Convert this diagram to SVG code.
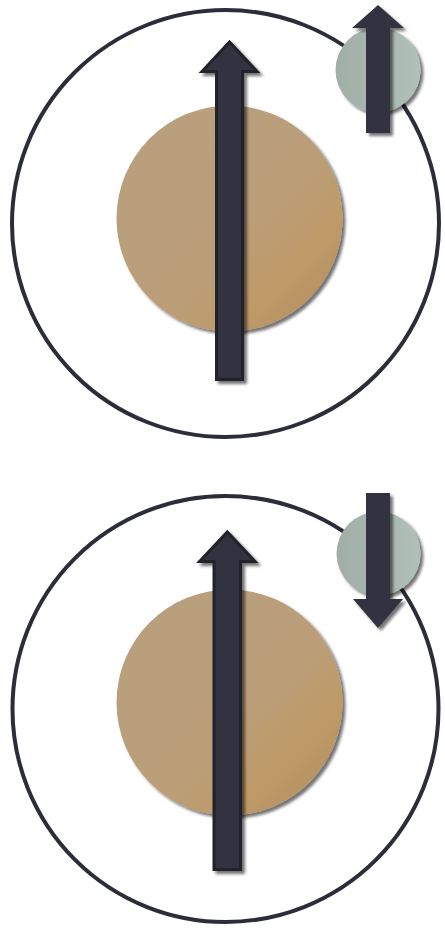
<svg xmlns="http://www.w3.org/2000/svg" width="445" height="928" viewBox="0 0 445 928">
<defs>
<linearGradient id="tan" x1="0" y1="0" x2="1" y2="1">
<stop offset="0" stop-color="#b8a07f"/>
<stop offset="0.55" stop-color="#bb9e78"/>
<stop offset="0.75" stop-color="#bf9a68"/>
<stop offset="1" stop-color="#ad8c60"/>
</linearGradient>
<linearGradient id="sage" x1="0" y1="0" x2="1" y2="0">
<stop offset="0" stop-color="#a0aea6"/>
<stop offset="1" stop-color="#b1c0b8"/>
</linearGradient>
<filter id="sh" x="-20%" y="-20%" width="150%" height="150%">
<feDropShadow dx="3" dy="3" stdDeviation="1.8" flood-color="#000" flood-opacity="0.55"/>
</filter>
</defs>
<style>
.ring{fill:none;stroke:#2c2d3b;stroke-width:4}
.nuc{fill:url(#tan);filter:url(#sh)}
.el{fill:url(#sage);filter:url(#sh)}
.arr{fill:#31323f;stroke:#212229;stroke-width:3;stroke-linejoin:miter;filter:url(#sh)}
.sarr{fill:#31323f;filter:url(#sh)}
.lbl{font-family:"Liberation Sans",Arial,sans-serif;font-size:26px;fill:#6f7d77}
</style>
<g id="atom-top">
<circle class="ring" cx="225.5" cy="223.5" r="213.5"/>
<g id="nucleus-top"><circle class="nuc" cx="229.5" cy="218.5" r="113"/></g>
<g id="electron-top"><circle class="el" cx="378" cy="70" r="42.5"/><text class="lbl" x="382" y="82" text-anchor="middle">e</text></g>
</g>
<g id="atom-bottom">
<circle class="ring" cx="225.5" cy="709" r="213"/>
<g id="nucleus-bottom"><circle class="nuc" cx="229.5" cy="702.5" r="113"/></g>
<g id="electron-bottom"><circle class="el" cx="378.5" cy="553.5" r="42"/><text class="lbl" x="382" y="566" text-anchor="middle">e</text></g>
</g>
<g id="connectors">
<polygon class="arr" points="216.5,379.5 242.5,379.5 242.5,71.5 257,71.5 229.5,42 202,71.5 216.5,71.5"/>
<polygon class="arr" points="214,869.5 240.5,869.5 240.5,561.5 255,561.5 227.3,532 199.5,561.5 214,561.5"/>
<polygon class="sarr" points="366,133 390,133 390,28 404,28 378,5 352,28 366,28"/>
<polygon class="sarr" points="366,493 390,493 390,599 403,599 378,628 353,599 366,599"/>
</g>
</svg>
